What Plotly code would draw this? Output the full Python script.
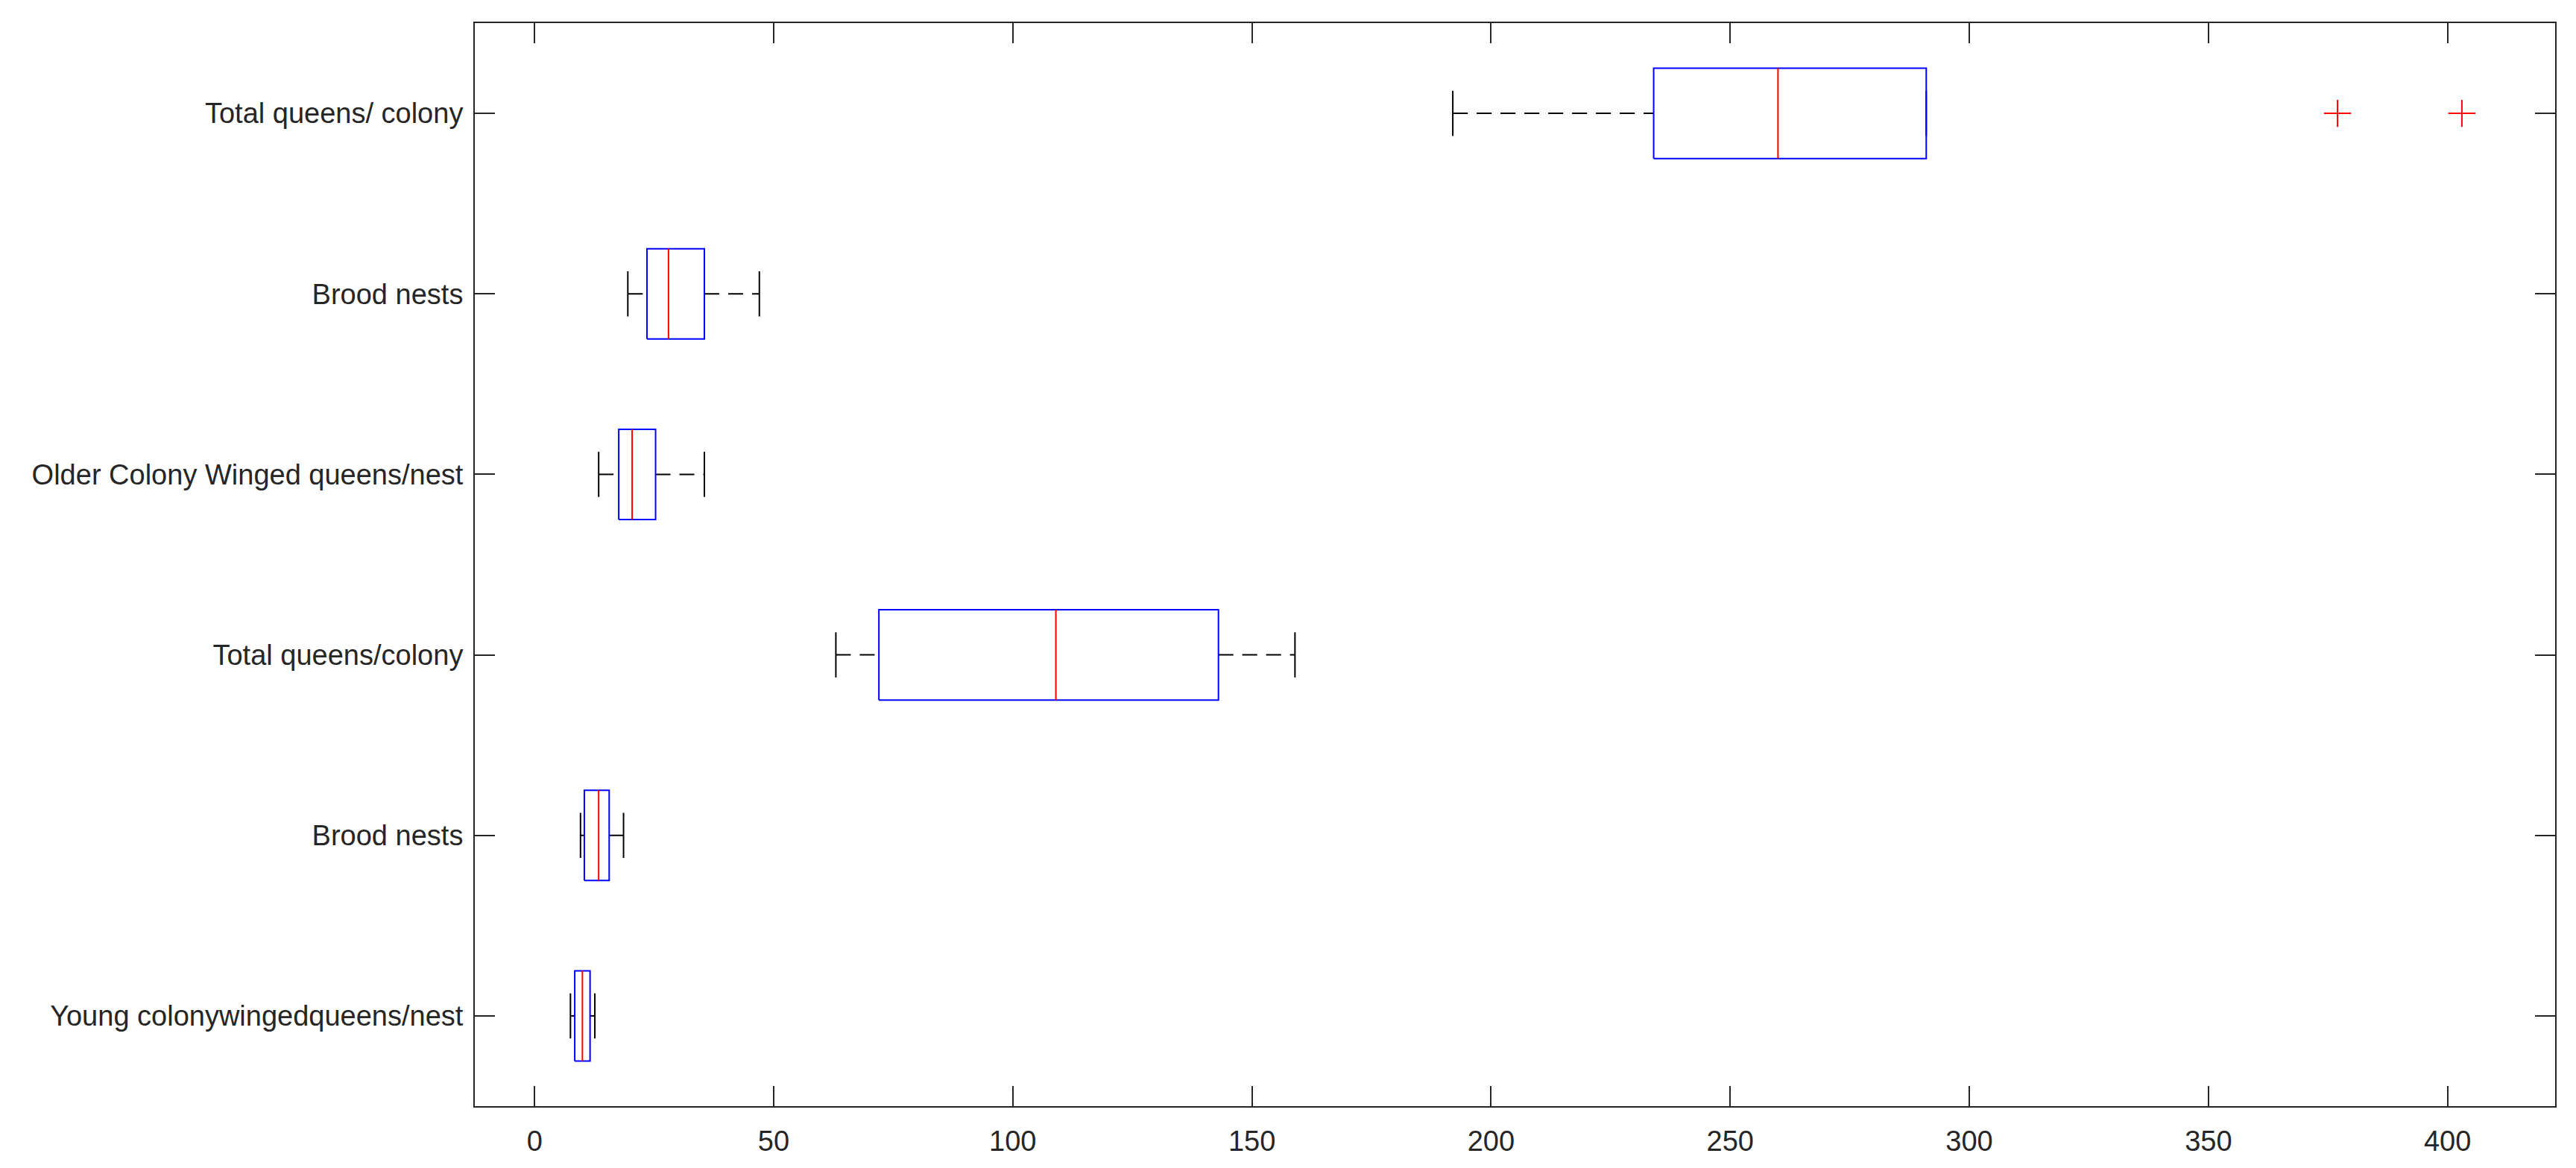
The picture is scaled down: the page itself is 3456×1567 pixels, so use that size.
import plotly.graph_objects as go

# ---- data ----
labels = ["Young colonywingedqueens/nest", "Brood nests", "Total queens/colony",
          "Older Colony Winged queens/nest", "Brood nests", "Total queens/ colony"]
positions = [1, 2, 3, 4, 5, 6]
lower_whisker = [7.5, 9.6, 63, 13.4, 19.5, 192]
q1 = [8.4, 10.4, 72, 17.6, 23.5, 234]
median = [10.0, 13.4, 109, 20.4, 28, 260]
q3 = [11.6, 15.6, 143, 25.3, 35.5, 291]
upper_whisker = [12.6, 18.6, 159, 35.5, 47, 291]
outlier_pos = [6, 6]
outlier_val = [377, 403]
x_ticks = [0, 50, 100, 150, 200, 250, 300, 350, 400]

# ---- style ----
BOX_HALF = 0.25
CAP_HALF = 0.125
BLUE = "rgb(0,0,255)"
RED = "rgb(255,0,0)"
BLACK = "rgb(0,0,0)"
AXIS = "#262626"
FONT = "Liberation Sans, Arial, sans-serif"

bx, by, mx, my, wx, wy, cx, cy = [], [], [], [], [], [], [], []
for p, lw, a, m, b, uw in zip(positions, lower_whisker, q1, median, q3, upper_whisker):
    bx += [a, b, b, a, a, None]
    by += [p - BOX_HALF, p - BOX_HALF, p + BOX_HALF, p + BOX_HALF, p - BOX_HALF, None]
    mx += [m, m, None]
    my += [p - BOX_HALF, p + BOX_HALF, None]
    wx += [lw, a, None, b, uw, None]
    wy += [p, p, None, p, p, None]
    cx += [lw, lw, None, uw, uw, None]
    cy += [p - CAP_HALF, p + CAP_HALF, None, p - CAP_HALF, p + CAP_HALF, None]

fig = go.Figure()
fig.add_trace(go.Scatter(x=wx, y=wy, mode="lines", line=dict(color=BLACK, width=2, dash="20px,12px"),
                         hoverinfo="skip", showlegend=False))
fig.add_trace(go.Scatter(x=cx, y=cy, mode="lines", line=dict(color=BLACK, width=2),
                         hoverinfo="skip", showlegend=False))
fig.add_trace(go.Scatter(x=bx, y=by, mode="lines", line=dict(color=BLUE, width=2),
                         hoverinfo="skip", showlegend=False))
fig.add_trace(go.Scatter(x=mx, y=my, mode="lines", line=dict(color=RED, width=2),
                         hoverinfo="skip", showlegend=False))
fig.add_trace(go.Scatter(x=outlier_val, y=outlier_pos, mode="markers",
                         marker=dict(symbol="cross-thin-open", size=26, color=RED,
                                     line=dict(color=RED, width=2)),
                         hoverinfo="skip", showlegend=False))

fig.update_layout(
    width=3448, height=1559,
    margin=dict(l=629, r=28, t=23, b=83, pad=0),
    paper_bgcolor="white", plot_bgcolor="white",
    font=dict(family=FONT, size=38, color=AXIS),
)
fig.update_xaxes(range=[-12.5, 422.5], tickvals=x_ticks, ticks="inside", ticklen=27, tickwidth=1.5,
                 tickcolor=AXIS, showline=True, linecolor=AXIS, linewidth=2, mirror="ticks",
                 showgrid=False, zeroline=False, tickfont=dict(size=38, color=AXIS, family=FONT),
                 ticklabelstandoff=12)
fig.update_yaxes(range=[0.5, 6.5], tickvals=positions, ticktext=labels, ticks="inside", ticklen=27,
                 tickwidth=1.5, tickcolor=AXIS, showline=True, linecolor=AXIS, linewidth=2, mirror="ticks",
                 showgrid=False, zeroline=False, tickfont=dict(size=38, color=AXIS, family=FONT),
                 ticklabelstandoff=6)

fig.write_html("out.html")
